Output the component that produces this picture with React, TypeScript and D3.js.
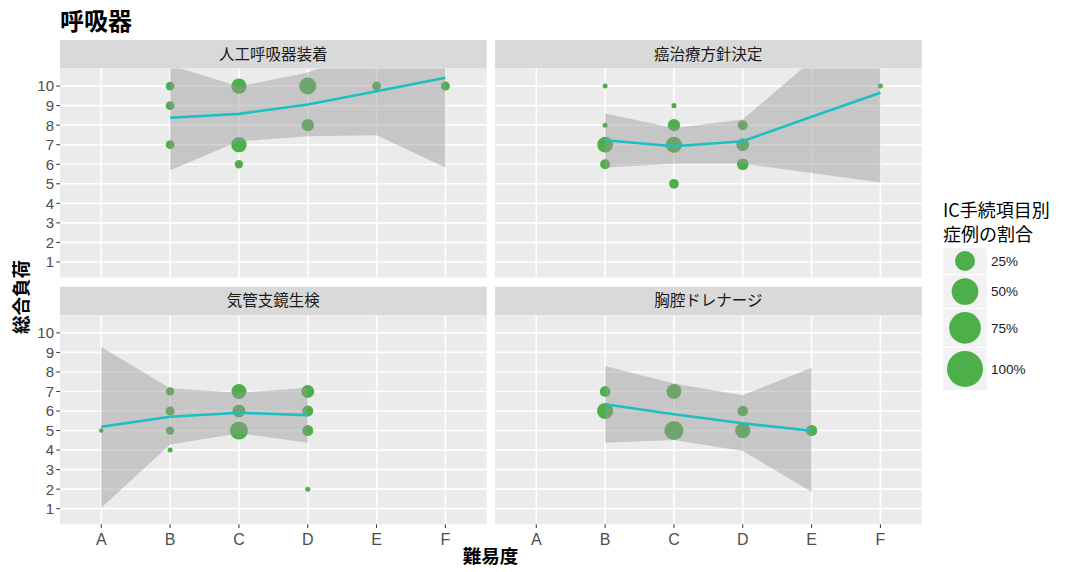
import React from "react";
import * as d3 from "d3";

// ---------- data ----------
const categories = ["A", "B", "C", "D", "E", "F"];
const panelTitles = ["人工呼吸器装着", "癌治療方針決定", "気管支鏡生検", "胸腔ドレナージ"];
const yTicks = [1, 2, 3, 4, 5, 6, 7, 8, 9, 10];
const legendBreaks = [25, 50, 75, 100];
const legendLabels = ["25%", "50%", "75%", "100%"];

// points: difficulty category, total burden, ratio (%)
const ventPoints = [
  { x: "B", y: 10, pct: 2.2 }, { x: "B", y: 9, pct: 2.2 }, { x: "B", y: 7, pct: 2.2 },
  { x: "C", y: 10, pct: 12.5 }, { x: "C", y: 7, pct: 12.5 }, { x: "C", y: 6, pct: 1.8 },
  { x: "D", y: 10, pct: 16.5 }, { x: "D", y: 8, pct: 6.7 },
  { x: "E", y: 10, pct: 2.4 }, { x: "F", y: 10, pct: 2.4 },
];
const cancerPoints = [
  { x: "B", y: 10, pct: 0.1 }, { x: "B", y: 8, pct: 0.1 }, { x: "B", y: 7, pct: 13.4 }, { x: "B", y: 6, pct: 3.5 },
  { x: "C", y: 9, pct: 0.1 }, { x: "C", y: 8, pct: 6.7 }, { x: "C", y: 7, pct: 14.1 }, { x: "C", y: 5, pct: 3.2 },
  { x: "D", y: 8, pct: 3.5 }, { x: "D", y: 7, pct: 7.4 }, { x: "D", y: 6, pct: 5.8 },
  { x: "F", y: 10, pct: 0.1 },
];
const bronchPoints = [
  { x: "A", y: 5, pct: 0.02 },
  { x: "B", y: 7, pct: 1.8 }, { x: "B", y: 6, pct: 2.4 }, { x: "B", y: 5, pct: 1.8 }, { x: "B", y: 4, pct: 0.1 },
  { x: "C", y: 7, pct: 11.8 }, { x: "C", y: 6, pct: 7.9 }, { x: "C", y: 5, pct: 19.1 },
  { x: "D", y: 7, pct: 7.9 }, { x: "D", y: 6, pct: 4.8 }, { x: "D", y: 5, pct: 4.8 }, { x: "D", y: 2, pct: 0.1 },
];
const chestPoints = [
  { x: "B", y: 7, pct: 4.4 }, { x: "B", y: 6, pct: 14.1 },
  { x: "C", y: 7, pct: 11.8 }, { x: "C", y: 5, pct: 22 },
  { x: "D", y: 6, pct: 4.4 }, { x: "D", y: 5, pct: 12.5 },
  { x: "E", y: 5, pct: 5.2 },
];

// smooth fit with confidence band
const ventFit = [
  { x: "B", fit: 8.38, lo: 5.69, hi: 11.07 },
  { x: "C", fit: 8.58, lo: 7.18, hi: 9.98 },
  { x: "D", fit: 9.06, lo: 7.43, hi: 10.69 },
  { x: "E", fit: 9.74, lo: 7.48, hi: 12.0 },
  { x: "F", fit: 10.43, lo: 5.84, hi: 15.0 },
];
const cancerFit = [
  { x: "B", fit: 7.23, lo: 5.84, hi: 8.6 },
  { x: "C", fit: 6.92, lo: 6.03, hi: 7.86 },
  { x: "D", fit: 7.18, lo: 6.03, hi: 8.29 },
  { x: "E", fit: 8.43, lo: 5.55, hi: 11.3 },
  { x: "F", fit: 9.66, lo: 5.07, hi: 14.25 },
];
const bronchFit = [
  { x: "A", fit: 5.19, lo: 1.05, hi: 9.28 },
  { x: "B", fit: 5.71, lo: 4.29, hi: 7.16 },
  { x: "C", fit: 5.91, lo: 4.86, hi: 6.93 },
  { x: "D", fit: 5.79, lo: 4.38, hi: 7.19 },
];
const chestFit = [
  { x: "B", fit: 6.35, lo: 4.38, hi: 8.3 },
  { x: "C", fit: 5.83, lo: 4.51, hi: 7.41 },
  { x: "D", fit: 5.37, lo: 3.95, hi: 6.81 },
  { x: "E", fit: 4.99, lo: 1.87, hi: 8.21 },
];

const panelPoints = [ventPoints, cancerPoints, bronchPoints, chestPoints];
const panelFits = [ventFit, cancerFit, bronchFit, chestFit];

// ---------- layout ----------
const W = 1068, H = 572;
const cols = [{ x0: 60, x1: 486.7 }, { x0: 495, x1: 921.7 }];
const rows = [
  { stripTop: 40, top: 68.5, bottom: 277.6 },
  { stripTop: 286.7, top: 315.3, bottom: 524.3 },
];
const GREEN = "#4DAF4A";
const CYAN = "#1DBFC3";
const SANS = "'Liberation Sans', Arial, 'Noto Sans CJK JP', sans-serif";
const CJK = "'Noto Sans CJK JP', 'Noto Sans', sans-serif";

const sizeScale = d3.scaleSqrt().domain([0, 100]).range([2, 18]);

function Panel({ idx }: { idx: number }) {
  const col = cols[idx % 2];
  const row = rows[Math.floor(idx / 2)];
  const x = d3.scalePoint<string>().domain(categories).range([col.x0, col.x1]).padding(0.6);
  const y = d3.scaleLinear().domain([0.2, 10.9]).range([row.bottom, row.top]);
  const fits = panelFits[idx];
  const pts = panelPoints[idx];
  const area = d3.area<any>().x((d) => x(d.x)!).y0((d) => y(d.lo)).y1((d) => y(d.hi));
  const line = d3.line<any>().x((d) => x(d.x)!).y((d) => y(d.fit));
  const clipId = `clip${idx}`;
  const showY = idx % 2 === 0;
  const showX = idx >= 2;
  return (
    <g>
      <defs>
        <clipPath id={clipId}>
          <rect x={col.x0} y={row.top} width={col.x1 - col.x0} height={row.bottom - row.top} />
        </clipPath>
      </defs>
      {/* strip */}
      <rect x={col.x0} y={row.stripTop} width={col.x1 - col.x0} height={row.top - row.stripTop} fill="#D9D9D9" />
      <text x={(col.x0 + col.x1) / 2} y={(row.stripTop + row.top) / 2} dy="0.35em" textAnchor="middle"
        fontFamily={CJK} fontSize={15.5} fill="#1A1A1A">{panelTitles[idx]}</text>
      {/* panel */}
      <rect x={col.x0} y={row.top} width={col.x1 - col.x0} height={row.bottom - row.top} fill="#EBEBEB" />
      {yTicks.map((t) => (
        <line key={"gy" + t} x1={col.x0} x2={col.x1} y1={y(t)} y2={y(t)} stroke="#FFFFFF" strokeWidth={1.6} />
      ))}
      {categories.map((c) => (
        <line key={"gx" + c} x1={x(c)} x2={x(c)} y1={row.top} y2={row.bottom} stroke="#FFFFFF" strokeWidth={1.6} />
      ))}
      <g clipPath={`url(#${clipId})`}>
        {pts.map((p, i) => (
          <circle key={i} cx={x(p.x)} cy={y(p.y)} r={sizeScale(p.pct)} fill={GREEN} />
        ))}
        <path d={area(fits)!} fill="#999999" fillOpacity={0.45} />
        <path d={line(fits)!} fill="none" stroke={CYAN} strokeWidth={2.6} />
      </g>
      {showY && yTicks.map((t) => (
        <g key={"ty" + t}>
          <line x1={col.x0 - 3.7} x2={col.x0} y1={y(t)} y2={y(t)} stroke="#333333" strokeWidth={1} />
          <text x={col.x0 - 6} y={y(t)} dy="0.36em" textAnchor="end" fontFamily={SANS} fontSize={15} fill="#4D4D4D">{t}</text>
        </g>
      ))}
      {showX && categories.map((c) => (
        <g key={"tx" + c}>
          <line x1={x(c)} x2={x(c)} y1={row.bottom} y2={row.bottom + 3.7} stroke="#333333" strokeWidth={1} />
          <text x={x(c)} y={row.bottom + 15} dy="0.36em" textAnchor="middle" fontFamily={SANS} fontSize={16} fill="#4D4D4D">{c}</text>
        </g>
      ))}
    </g>
  );
}

function Legend() {
  const lx = 943, kw = 44;
  let cy = 248;
  const keys = legendBreaks.map((b, i) => {
    const r = sizeScale(b);
    const h = Math.max(25, 2 * r + 6);
    const k = { top: cy, h, r, label: legendLabels[i] };
    cy += h + 1.2;
    return k;
  });
  return (
    <g>
      <text x={lx} y={211} dy="0.35em" fontFamily={CJK} fontSize={18} fill="#000">IC手続項目別</text>
      <text x={lx} y={235} dy="0.35em" fontFamily={CJK} fontSize={18} fill="#000">症例の割合</text>
      {keys.map((k, i) => (
        <g key={i}>
          <rect x={lx} y={k.top} width={kw} height={k.h} fill="#F2F2F2" />
          <circle cx={lx + kw / 2} cy={k.top + k.h / 2} r={k.r} fill={GREEN} />
          <text x={lx + kw + 4} y={k.top + k.h / 2} dy="0.36em" fontFamily={SANS} fontSize={13.5} fill="#1A1A1A">{k.label}</text>
        </g>
      ))}
    </g>
  );
}

export default function App() {
  return (
    <svg width={W} height={H} style={{ position: "absolute", left: 0, top: 0, background: "#fff" }}>
      <rect x={0} y={0} width={W} height={H} fill="#FFFFFF" />
      <text x={60} y={22} dy="0.35em" fontFamily={CJK} fontWeight="bold" fontSize={24} fill="#000">呼吸器</text>
      {[0, 1, 2, 3].map((i) => <Panel key={i} idx={i} />)}
      <text transform={`translate(22,297) rotate(-90)`} textAnchor="middle" dy="0.35em" fontFamily={CJK}
        fontWeight="bold" fontSize={18.5} fill="#000">総合負荷</text>
      <text x={490.5} y={557} dy="0.35em" textAnchor="middle" fontFamily={CJK} fontWeight="bold" fontSize={18.5} fill="#000">難易度</text>
      <Legend />
    </svg>
  );
}
